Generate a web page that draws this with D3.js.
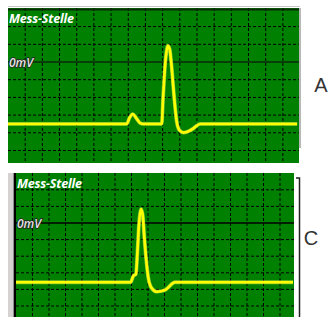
<!DOCTYPE html>
<html>
<head>
<meta charset="utf-8">
<script src="https://cdn.jsdelivr.net/npm/d3@7"></script>
<style>
  body { margin: 0; background: #fff; }
  svg { display: block; }
</style>
</head>
<body>
<div id="vis"></div>
<script>
// Oscilloscope traces "Mess-Stelle" A and C, values in grid divisions

const FRAME_WIDTH = 330;
const FRAME_HEIGHT = 317;

// data: time (div) / voltage (div from 0mV)
const TIME_A = [0, 6.91, 7.07, 7.26, 7.48, 7.69, 7.88, 8.95, 9.02, 9.17, 9.30, 9.41, 9.53, 9.66, 9.82, 9.97, 10.21, 10.48, 10.79, 11.18, 16.83];
const VOLT_A = [-3.5, -3.5, -3.16, -2.94, -3.19, -3.45, -3.5, -3.5, -2.15, 0.11, 0.92, 0.73, -0.34, -1.86, -3.37, -3.84, -3.99, -3.93, -3.75, -3.5, -3.5];

const TIME_C = [0, 6.95, 7.11, 7.27, 7.35, 7.45, 7.58, 7.68, 7.78, 8.02, 8.22, 8.53, 9.03, 9.64, 16.79];
const VOLT_C = [-3.57, -3.57, -3.19, -3.07, -1.93, -0.12, 0.84, 0.48, -0.90, -3.31, -3.92, -4.14, -4.04, -3.57, -3.57];

const GRID_X_DIVS = d3.range(1, 17);
const GRID_Y_DIVS = [2, 1, -1, -2, -3, -4, -5, -6];
const TITLE = "Mess-Stelle";
const ZERO_LABEL = "0mV";
const PANEL_LABELS = ["A", "C"];

// panel layout
const PANELS = [
  {name: PANEL_LABELS[0], time: TIME_A, volt: VOLT_A,
   left: 8, right: 299, colW: 17.18, top: 8, bottom: 163, zeroY: 62, rowH: 17.7,
   labelX: 321, labelY: 92, topLine: true},
  {name: PANEL_LABELS[1], time: TIME_C, volt: VOLT_C,
   left: 16, right: 294, colW: 16.5, top: 173, bottom: 317, zeroY: 223, rowH: 16.6,
   labelX: 311, labelY: 245, topLine: false}
];

const svg = d3.select("#vis").append("svg")
    .attr("width", FRAME_WIDTH)
    .attr("height", FRAME_HEIGHT);

PANELS.forEach((p, i) => {
  const xScale = d3.scaleLinear()
      .domain([0, 17])
      .range([p.left, p.left + 17 * p.colW]);
  const yScale = d3.scaleLinear()
      .domain([0, 1])
      .range([p.zeroY, p.zeroY - p.rowH]);

  const clipId = "clip" + i;
  svg.append("clipPath").attr("id", clipId)
    .append("rect")
      .attr("x", p.left).attr("y", p.top)
      .attr("width", p.right - p.left).attr("height", p.bottom - p.top);

  const g = svg.append("g").attr("clip-path", "url(#" + clipId + ")");

  g.append("rect")
      .attr("x", p.left).attr("y", p.top)
      .attr("width", p.right - p.left).attr("height", p.bottom - p.top)
      .attr("fill", "#008000");

  // dashed grid
  g.selectAll(".vgrid")
    .data(GRID_X_DIVS)
    .enter().append("line")
      .attr("x1", d => xScale(d)).attr("x2", d => xScale(d))
      .attr("y1", p.top).attr("y2", p.bottom)
      .attr("stroke", "#000").attr("stroke-width", 1)
      .attr("stroke-dasharray", "3,2");

  g.selectAll(".hgrid")
    .data(GRID_Y_DIVS)
    .enter().append("line")
      .attr("x1", p.left).attr("x2", p.right)
      .attr("y1", d => yScale(d)).attr("y2", d => yScale(d))
      .attr("stroke", "#000").attr("stroke-width", 1)
      .attr("stroke-dasharray", "3,2");

  // 0mV line
  g.append("line")
      .attr("x1", p.left).attr("x2", p.right)
      .attr("y1", yScale(0)).attr("y2", yScale(0))
      .attr("stroke", i === 0 ? "#0b2a0b" : "#000").attr("stroke-width", 1.5);

  if (p.topLine) {
    g.append("line")
        .attr("x1", p.left).attr("x2", p.right)
        .attr("y1", yScale(3) + 0.5).attr("y2", yScale(3) + 0.5)
        .attr("stroke", "#0b2a0b").attr("stroke-width", 2);
  }

  // trace
  const pts = p.time.map((t, k) => [t, p.volt[k]]);
  const line = d3.line()
      .x(d => xScale(d[0]))
      .y(d => yScale(d[1]))
      .curve(d3.curveMonotoneX);

  g.append("path")
      .datum(pts)
      .attr("d", line)
      .attr("fill", "none")
      .attr("stroke", "#ffff66").attr("stroke-opacity", 0.5)
      .attr("stroke-width", 3.8);
  g.append("path")
      .datum(pts)
      .attr("d", line)
      .attr("fill", "none")
      .attr("stroke", "#ffff00")
      .attr("stroke-width", 2.6)
      .attr("stroke-linejoin", "round");

  // texts
  g.append("text")
      .attr("x", p.left + 1)
      .attr("y", p.top + 15)
      .attr("font-family", "Open Sans, sans-serif")
      .attr("font-size", "12.5px")
      .attr("font-weight", "bold")
      .attr("font-style", "italic")
      .attr("letter-spacing", "-0.2px")
      .attr("fill", "#fff")
      .text(TITLE);

  g.append("text")
      .attr("x", p.left + 1)
      .attr("y", yScale(0) + 4.5)
      .attr("font-family", "Open Sans, sans-serif")
      .attr("font-size", "12px")
      .attr("font-style", "italic")
      .attr("font-weight", "600")
      .attr("fill", "#e4e4e4")
      .attr("stroke", "#222")
      .attr("stroke-width", 1.6)
      .attr("paint-order", "stroke")
      .text(ZERO_LABEL);

  svg.append("text")
      .attr("x", p.labelX)
      .attr("y", p.labelY)
      .attr("text-anchor", "middle")
      .attr("font-family", "Liberation Sans, Arial, sans-serif")
      .attr("font-size", "20px")
      .attr("fill", "#333")
      .text(p.name);
});

// frame details
const A = PANELS[0], C = PANELS[1];
svg.append("line")
    .attr("x1", A.left).attr("x2", A.right + 1)
    .attr("y1", A.top - 1.5).attr("y2", A.top - 1.5)
    .attr("stroke", "#c8c8c8").attr("stroke-width", 1);
svg.append("line")
    .attr("x1", A.right + 1).attr("x2", A.right + 1)
    .attr("y1", A.top).attr("y2", 148)
    .attr("stroke", "#b8b8b8").attr("stroke-width", 2);

svg.append("rect")
    .attr("x", 8).attr("y", C.top)
    .attr("width", 5.5).attr("height", C.bottom - C.top)
    .attr("fill", "#d6d2d2");
svg.append("line")
    .attr("x1", 14.8).attr("x2", 14.8)
    .attr("y1", C.top).attr("y2", C.bottom)
    .attr("stroke", "#000").attr("stroke-width", 2.4);
svg.append("path")
    .attr("d", "M296," + (C.top + 5) + "H299.5V" + C.bottom)
    .attr("fill", "none")
    .attr("stroke", "#222").attr("stroke-width", 1.5);
</script>
</body>
</html>
